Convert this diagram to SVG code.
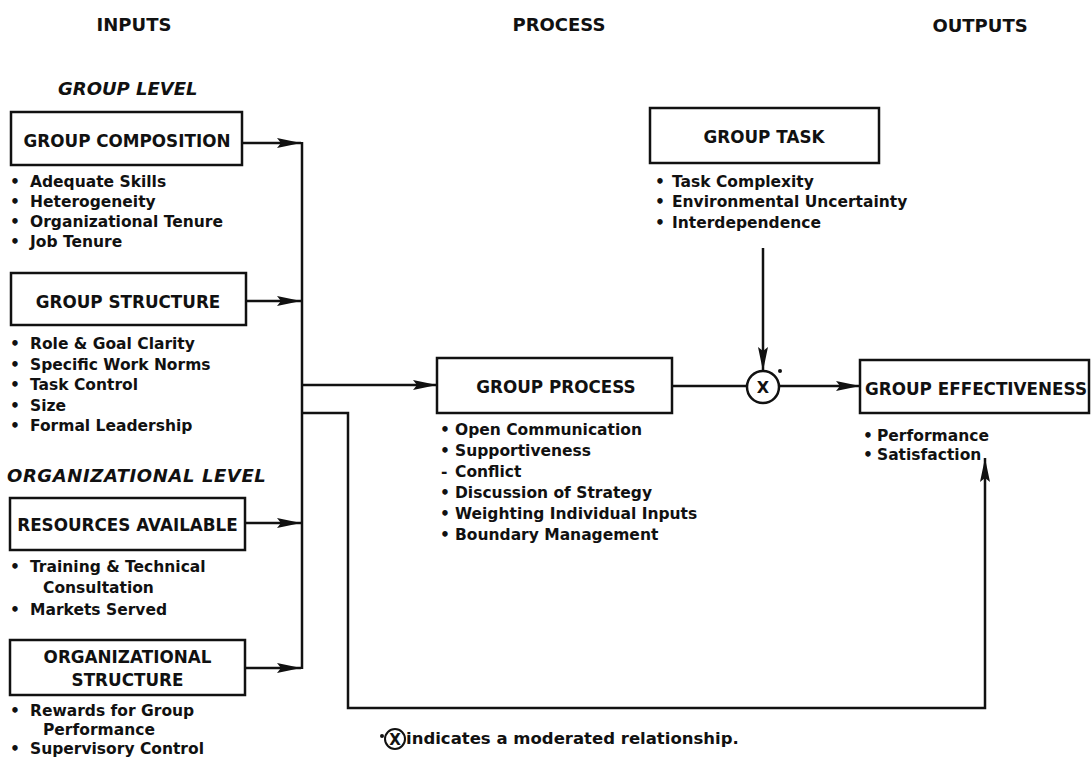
<svg xmlns="http://www.w3.org/2000/svg" width="1092" height="759" viewBox="0 0 1092 759">
  <defs>
    <marker id="ah" markerUnits="userSpaceOnUse" markerWidth="24" markerHeight="10" refX="24" refY="5" orient="auto">
      <path d="M0,0 L24,5 L0,10 L4,5 z" fill="#111"/>
    </marker>
    <style>
      .box { fill: #fff; stroke: #111; stroke-width: 2.5; }
      .wire { fill: none; stroke: #111; stroke-width: 2.5; }
      .arrow { fill: none; stroke: #111; stroke-width: 2.5; marker-end: url(#ah); }
      text { font-family: "DejaVu Sans", "Liberation Sans", sans-serif; font-weight: bold; fill: #111; }
      .hdr { font-size: 18px; text-anchor: middle; }
      .lvl { font-size: 18px; font-style: italic; }
      .lbl { font-size: 16.8px; text-anchor: middle; }
      .item { font-size: 15.5px; }
      .note { font-size: 16.5px; }
    </style>
  </defs>
  <rect width="1092" height="759" fill="#fff"/>

  <!-- column headings -->
  <g id="headings">
    <text class="hdr" x="134" y="31">INPUTS</text>
    <text class="hdr" x="559" y="31">PROCESS</text>
    <text class="hdr" x="980" y="32">OUTPUTS</text>
    <text class="lvl" x="58" y="95">GROUP LEVEL</text>
    <text class="lvl" x="7" y="482" letter-spacing="0.6">ORGANIZATIONAL LEVEL</text>
  </g>

  <!-- connectors -->
  <g id="connectors">
    <line class="arrow" x1="242" y1="143" x2="301" y2="143"/>
    <line class="arrow" x1="246" y1="301" x2="301" y2="301"/>
    <line class="arrow" x1="245" y1="523" x2="301" y2="523"/>
    <line class="arrow" x1="245" y1="668" x2="301" y2="668"/>
    <line class="wire" x1="302" y1="142" x2="302" y2="669"/>
    <line class="arrow" x1="302" y1="385" x2="437" y2="385"/>
    <polyline class="arrow" points="302,413 348,413 348,708 985,708 985,458"/>
    <line class="wire" x1="672" y1="386" x2="746" y2="386"/>
    <line class="arrow" x1="763" y1="248" x2="763" y2="371"/>
    <line class="arrow" x1="779" y1="386" x2="860" y2="386"/>
  </g>

  <g id="group-composition">
    <rect class="box" x="11" y="112" width="231" height="53"/>
    <text class="lbl" x="127" y="147">GROUP COMPOSITION</text>
    <text class="item"><tspan x="10" y="187">•</tspan><tspan x="30" y="187">Adequate Skills</tspan></text>
    <text class="item"><tspan x="10" y="207">•</tspan><tspan x="30" y="207">Heterogeneity</tspan></text>
    <text class="item"><tspan x="10" y="227">•</tspan><tspan x="30" y="227">Organizational Tenure</tspan></text>
    <text class="item"><tspan x="10" y="247">•</tspan><tspan x="30" y="247">Job Tenure</tspan></text>
  </g>

  <g id="group-structure">
    <rect class="box" x="11" y="273" width="235" height="52"/>
    <text class="lbl" x="128" y="308">GROUP STRUCTURE</text>
    <text class="item"><tspan x="10" y="349">•</tspan><tspan x="30" y="349">Role &amp; Goal Clarity</tspan></text>
    <text class="item"><tspan x="10" y="369.5">•</tspan><tspan x="30" y="369.5">Specific Work Norms</tspan></text>
    <text class="item"><tspan x="10" y="390">•</tspan><tspan x="30" y="390">Task Control</tspan></text>
    <text class="item"><tspan x="10" y="410.5">•</tspan><tspan x="30" y="410.5">Size</tspan></text>
    <text class="item"><tspan x="10" y="431">•</tspan><tspan x="30" y="431">Formal Leadership</tspan></text>
  </g>

  <g id="resources-available">
    <rect class="box" x="10" y="498" width="235" height="52"/>
    <text class="lbl" x="127.5" y="531">RESOURCES AVAILABLE</text>
    <text class="item"><tspan x="10" y="572">•</tspan><tspan x="30" y="572">Training &amp; Technical</tspan></text>
    <text class="item" x="43" y="593">Consultation</text>
    <text class="item"><tspan x="10" y="615">•</tspan><tspan x="30" y="615">Markets Served</tspan></text>
  </g>

  <g id="organizational-structure">
    <rect class="box" x="10" y="640" width="235" height="55"/>
    <text class="lbl" x="127.5" y="663">ORGANIZATIONAL</text>
    <text class="lbl" x="127.5" y="686">STRUCTURE</text>
    <text class="item"><tspan x="10" y="716">•</tspan><tspan x="30" y="716">Rewards for Group</tspan></text>
    <text class="item" x="43" y="735">Performance</text>
    <text class="item"><tspan x="10" y="754">•</tspan><tspan x="30" y="754">Supervisory Control</tspan></text>
  </g>

  <g id="group-process">
    <rect class="box" x="437" y="358" width="235" height="55"/>
    <text class="lbl" x="556" y="393">GROUP PROCESS</text>
    <text class="item"><tspan x="440" y="435">•</tspan><tspan x="455" y="435">Open Communication</tspan></text>
    <text class="item"><tspan x="440" y="456">•</tspan><tspan x="455" y="456">Supportiveness</tspan></text>
    <text class="item"><tspan x="441" y="477">-</tspan><tspan x="455" y="477">Conflict</tspan></text>
    <text class="item"><tspan x="440" y="498">•</tspan><tspan x="455" y="498">Discussion of Strategy</tspan></text>
    <text class="item"><tspan x="440" y="519">•</tspan><tspan x="455" y="519">Weighting Individual Inputs</tspan></text>
    <text class="item"><tspan x="440" y="540">•</tspan><tspan x="455" y="540">Boundary Management</tspan></text>
  </g>

  <g id="group-task">
    <rect class="box" x="650" y="108" width="229" height="55"/>
    <text class="lbl" x="764" y="143">GROUP TASK</text>
    <text class="item"><tspan x="655" y="187">•</tspan><tspan x="672" y="187">Task Complexity</tspan></text>
    <text class="item"><tspan x="655" y="207">•</tspan><tspan x="672" y="207">Environmental Uncertainty</tspan></text>
    <text class="item"><tspan x="655" y="228">•</tspan><tspan x="672" y="228">Interdependence</tspan></text>
  </g>

  <g id="moderator">
    <circle cx="763" cy="387" r="16" fill="#fff" stroke="#111" stroke-width="2.5"/>
    <text x="763" y="393" font-size="16" text-anchor="middle">X</text>
    <circle cx="780" cy="371" r="2" fill="#111"/>
  </g>

  <g id="group-effectiveness">
    <rect class="box" x="860" y="360" width="229" height="53"/>
    <text class="lbl" x="976" y="395">GROUP EFFECTIVENESS</text>
    <text class="item"><tspan x="863" y="441">•</tspan><tspan x="877" y="441">Performance</tspan></text>
    <text class="item"><tspan x="863" y="460">•</tspan><tspan x="877" y="460">Satisfaction</tspan></text>
  </g>

  <g id="footnote">
    <circle cx="382" cy="736" r="2" fill="#111"/>
    <circle cx="395" cy="739" r="10" fill="none" stroke="#111" stroke-width="2"/>
    <text x="395" y="745" font-size="15" text-anchor="middle">X</text>
    <text class="note" x="406" y="744">indicates a moderated relationship.</text>
  </g>
</svg>
